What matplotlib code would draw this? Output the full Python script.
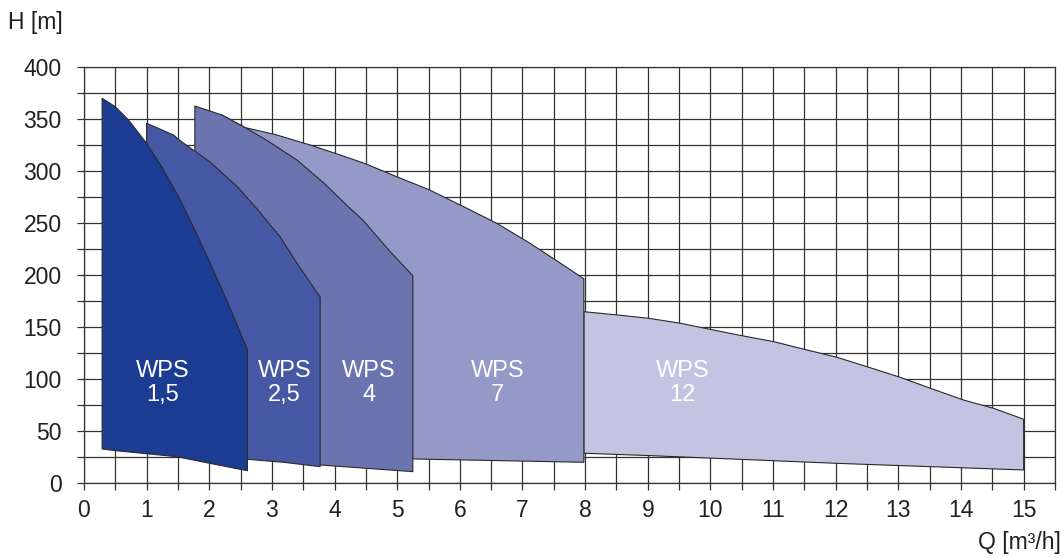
import matplotlib.pyplot as plt
from matplotlib.patches import Polygon
from matplotlib.ticker import MultipleLocator

plt.rcParams['font.family'] = ['Liberation Sans', 'DejaVu Sans']

# pump ranges: upper curve (Q, H) and lower curve (Q, H), left to right
wps15_top = [(0.29, 369.6), (0.5, 361.5), (0.71, 348.8), (1.0, 326.3), (1.24, 303.8),
             (1.51, 275), (1.77, 243), (2.04, 207.7), (2.30, 172.5), (2.61, 127.6)]
wps15_bot = [(0.29, 32.4), (0.5, 30.8), (1.48, 25), (2.01, 18.6), (2.61, 11.5)]

wps25_top = [(1.0, 345.6), (1.43, 334.3), (1.51, 330), (2.02, 308), (2.33, 291),
             (2.45, 284.5), (2.78, 262), (3.13, 236.5), (3.40, 211), (3.77, 178.5)]
wps25_bot = [(1.0, 30), (2.61, 22.5), (3.2, 19.5), (3.77, 15.4)]

wps4_top = [(1.77, 362.2), (2.2, 353.6), (2.57, 341.5), (2.95, 328), (3.40, 310.3),
            (3.85, 287), (4.19, 267), (4.46, 252), (4.89, 222), (5.25, 199)]
wps4_bot = [(1.77, 27), (3.0, 22), (3.77, 17), (5.25, 10.6)]

wps7_top = [(2.2, 353.6), (2.57, 341.5), (3.08, 334.3), (3.61, 324.7), (4.09, 315.1),
            (4.48, 307), (5.02, 293.5), (5.52, 281.4), (6.06, 265.4), (6.59, 249.4),
            (7.12, 230.2), (7.65, 209.3), (7.98, 196)]
wps7_bot = [(2.2, 30), (5.25, 22.8), (7.98, 19.6)]

wps12_top = [(7.98, 164.4), (8.51, 161.3), (9.01, 158.1), (9.52, 153.3), (9.99, 147.5),
             (10.53, 141), (11.01, 135.6), (11.54, 127.6), (12.02, 120.6), (12.5, 111.5),
             (13.03, 101.3), (13.51, 90.8), (14.04, 79.5), (14.52, 71.5), (15.0, 61)]
wps12_bot = [(7.98, 28.3), (9.04, 26), (12.02, 18.6), (15.0, 12.2)]

labels = ['WPS\n12', 'WPS\n7', 'WPS\n4', 'WPS\n2,5', 'WPS\n1,5']
label_pos = [(9.55, 96), (6.6, 96), (4.55, 96), (3.2, 96), (1.25, 96)]
colors = ['#c3c4e2', '#9599c8', '#6c74b0', '#4658a4', '#1c3c94']
tops = [wps12_top, wps7_top, wps4_top, wps25_top, wps15_top]
bots = [wps12_bot, wps7_bot, wps4_bot, wps25_bot, wps15_bot]

fig = plt.figure(figsize=(10.64, 5.58), dpi=100)
ax = fig.add_axes([0.0789, 0.135, 0.9126, 0.7455])

gc = '#333333'
for top, bot, col in zip(tops, bots, colors):
    pts = top + bot[::-1]
    ax.add_patch(Polygon(pts, closed=True, facecolor=col, edgecolor='#2a2a2a',
                         lw=0.8, joinstyle='round', zorder=3))

for (x, y), lab in zip(label_pos, labels):
    ax.text(x, y, lab, color='white', fontsize=17, ha='center', va='center',
            linespacing=1.15, zorder=4)

ax.set_xlim(0, 15.5)
ax.set_ylim(0, 400)
ax.xaxis.set_major_locator(MultipleLocator(1))
ax.xaxis.set_minor_locator(MultipleLocator(0.5))
ax.yaxis.set_major_locator(MultipleLocator(50))
ax.yaxis.set_minor_locator(MultipleLocator(25))
ax.set_xticks(range(0, 16))
ax.grid(True, which='both', color=gc, lw=0.9, zorder=1)
ax.set_axisbelow(True)
for s in ax.spines.values():
    s.set_color(gc)
    s.set_linewidth(0.9)
ax.tick_params(which='both', direction='out', length=5, width=0.9, color=gc)
ax.tick_params(axis='y', which='major', labelsize=16.5, labelcolor='#231f20', pad=11)
ax.tick_params(axis='x', which='major', labelsize=16.5, labelcolor='#231f20', pad=7)

fig.text(0.0075, 0.96, 'H [m]', fontsize=16.5, color='#231f20', ha='left', va='center')
fig.text(0.997, 0.027, 'Q [m³/h]', fontsize=16.5, color='#231f20', ha='right', va='center')

fig.savefig('out.png', dpi=100)
